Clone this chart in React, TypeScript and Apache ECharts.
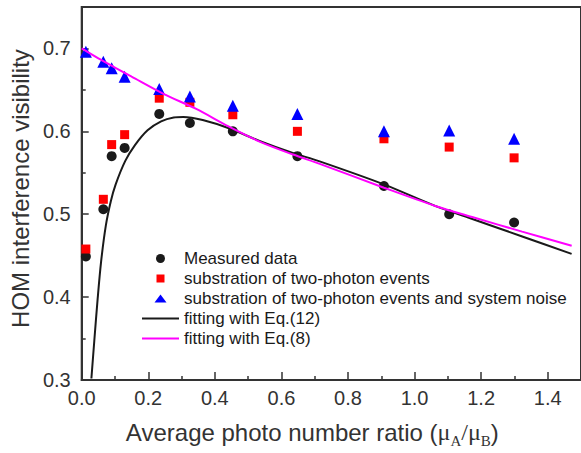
import React, { useEffect, useRef } from 'react';
import * as echarts from 'echarts';

// Photon number ratio (x) of the measured points
const ratioX = [0.0125, 0.065, 0.09, 0.129, 0.233, 0.325, 0.454, 0.648, 0.908, 1.104, 1.299];
const measured = [0.449, 0.506, 0.570, 0.580, 0.621, 0.610, 0.600, 0.570, 0.534, 0.500, 0.490];
const twoPhotonSub = [0.458, 0.518, 0.584, 0.596, 0.640, 0.635, 0.620, 0.600, 0.591, 0.581, 0.568];
const noiseSub = [0.696, 0.684, 0.676, 0.666, 0.651, 0.642, 0.631, 0.621, 0.600, 0.601, 0.591];

// Fitted curves
const fit12X = [0.0291, 0.0378, 0.048, 0.0582, 0.0727, 0.0873, 0.1018, 0.1309, 0.16, 0.1978, 0.2385, 0.2763, 0.3054, 0.3636, 0.4421, 0.5381, 0.6341, 0.7126, 0.9075, 1.0617, 1.178, 1.3234, 1.4718];
const fit12Y = [0.3018, 0.3471, 0.3984, 0.4426, 0.4868, 0.5154, 0.5357, 0.5643, 0.5834, 0.6013, 0.6121, 0.6168, 0.6174, 0.6136, 0.6037, 0.5878, 0.5739, 0.564, 0.536, 0.5101, 0.4937, 0.4732, 0.4521];
const fit8X = [0, 0.05, 0.1, 0.15, 0.247, 0.344, 0.441, 0.538, 0.635, 0.713, 0.908, 1.062, 1.178, 1.323, 1.472];
const fit8Y = [0.700, 0.688, 0.677, 0.666, 0.645, 0.627, 0.606, 0.587, 0.572, 0.561, 0.532, 0.510, 0.496, 0.479, 0.462];

const seriesNames = [
  'Measured data',
  'substration of two-photon events',
  'substration of two-photon events and system noise',
  'fitting with Eq.(12)',
  'fitting with Eq.(8)',
];

const FONT = '"Liberation Sans", Arial, Helvetica, sans-serif';
const SERIF = '"Liberation Serif", "Times New Roman", serif';

// legend icons (keep aspect; the lone moveTo points pad the bounding box)
const ICON_CIRCLE = 'path://M0,0M12,12M1.5,6A4.5,4.5,0,1,1,10.5,6A4.5,4.5,0,1,1,1.5,6Z';
const ICON_SQUARE = 'path://M0,0M12,12M2,2L10,2L10,10L2,10Z';
const ICON_TRIANGLE = 'path://M0,0M12,12M0,10L6,2L12,10Z';
const ICON_LINE = 'path://M0,0L37,0L37,2L0,2Z';

export default function App() {
  const ref = useRef<HTMLDivElement>(null);
  useEffect(() => {
    document.body.style.margin = '0';
    if (!ref.current) return;
    const chart = echarts.init(ref.current, null, { renderer: 'svg' });
    const pair = (xs: number[], ys: number[]) => xs.map((x, i) => [x, ys[i]]);
    const icons = [ICON_CIRCLE, ICON_SQUARE, ICON_TRIANGLE, ICON_LINE, ICON_LINE];
    chart.setOption({
      animation: false,
      backgroundColor: '#ffffff',
      grid: {
        left: 75,
        top: 7,
        right: -9.7,
        bottom: 69,
        show: true,
        borderColor: '#333',
        borderWidth: 2,
        backgroundColor: 'transparent',
      },
      legend: {
        orient: 'vertical',
        left: 142,
        top: 250,
        padding: 0,
        itemWidth: 37,
        itemHeight: 12,
        itemGap: 3,
        symbolKeepAspect: true,
        textStyle: { fontSize: 17, fontFamily: FONT, color: '#1a1a1a', lineHeight: 17 },
        data: seriesNames.map((n, i) => ({ name: n, icon: icons[i] })),
      },
      xAxis: {
        type: 'value',
        min: 0,
        max: 1.5,
        interval: 0.2,
        axisLine: { show: true, lineStyle: { color: '#333', width: 2 } },
        axisTick: { show: true, inside: true, length: 8, lineStyle: { color: '#333', width: 1.5 } },
        minorTick: { show: true, splitNumber: 2, length: 4, lineStyle: { color: '#333', width: 1.5 } },
        splitLine: { show: false },
        axisLabel: {
          fontSize: 20,
          fontFamily: FONT,
          color: '#333',
          margin: 8,
          showMaxLabel: false,
          formatter: (v: number) => v.toFixed(1),
        },
        name: 'Average photo number ratio ({mu|μ}{sub|A}{mu|/}{mu|μ}{sub|B})',
        nameLocation: 'middle',
        nameGap: 36,
        nameTextStyle: {
          fontSize: 24,
          fontFamily: FONT,
          color: '#333',
          padding: [0, 38, 0, 0],
          rich: {
            mu: { fontSize: 24, fontFamily: SERIF, color: '#333' },
            sub: { fontSize: 15, fontFamily: SERIF, color: '#333', verticalAlign: 'bottom', lineHeight: 32 },
          },
        },
      },
      yAxis: {
        type: 'value',
        min: 0.3,
        max: 0.75,
        interval: 0.1,
        axisLine: { show: true, lineStyle: { color: '#333', width: 2 } },
        axisTick: { show: true, inside: true, length: 7, lineStyle: { color: '#333', width: 1.5 } },
        minorTick: { show: true, splitNumber: 2, length: 4, lineStyle: { color: '#333', width: 1.5 } },
        splitLine: { show: false },
        axisLabel: {
          fontSize: 20,
          fontFamily: FONT,
          color: '#333',
          margin: 11,
          showMaxLabel: false,
          formatter: (v: number) => v.toFixed(1),
        },
        name: 'HOM interference visibility',
        nameLocation: 'middle',
        nameGap: 38,
        nameRotate: 90,
        nameTextStyle: { fontSize: 24, fontFamily: FONT, color: '#333', padding: [0, 0, 0, 10] },
      },
      series: [
        {
          name: seriesNames[0],
          type: 'scatter',
          symbol: 'circle',
          symbolSize: 10,
          itemStyle: { color: '#1a1a1a', opacity: 1 },
          data: pair(ratioX, measured),
          z: 2,
        },
        {
          name: seriesNames[1],
          type: 'scatter',
          symbol: 'rect',
          symbolSize: 9,
          itemStyle: { color: '#ff0000', opacity: 1 },
          data: pair(ratioX, twoPhotonSub),
          z: 2,
        },
        {
          name: seriesNames[2],
          type: 'scatter',
          symbol: 'triangle',
          symbolSize: 12,
          itemStyle: { color: '#0000ff', opacity: 1 },
          data: pair(ratioX, noiseSub),
          z: 2,
        },
        {
          name: seriesNames[3],
          type: 'line',
          symbol: 'none',
          showSymbol: false,
          smooth: 0.3,
          lineStyle: { color: '#1a1a1a', width: 2 },
          itemStyle: { color: '#1a1a1a' },
          data: pair(fit12X, fit12Y),
          z: 3,
        },
        {
          name: seriesNames[4],
          type: 'line',
          symbol: 'none',
          showSymbol: false,
          smooth: 0.3,
          lineStyle: { color: '#ff00ff', width: 2 },
          itemStyle: { color: '#ff00ff' },
          data: pair(fit8X, fit8Y),
          z: 3,
        },
      ],
    });
    return () => chart.dispose();
  }, []);
  return <div ref={ref} style={{ width: 581, height: 453 }} />;
}
